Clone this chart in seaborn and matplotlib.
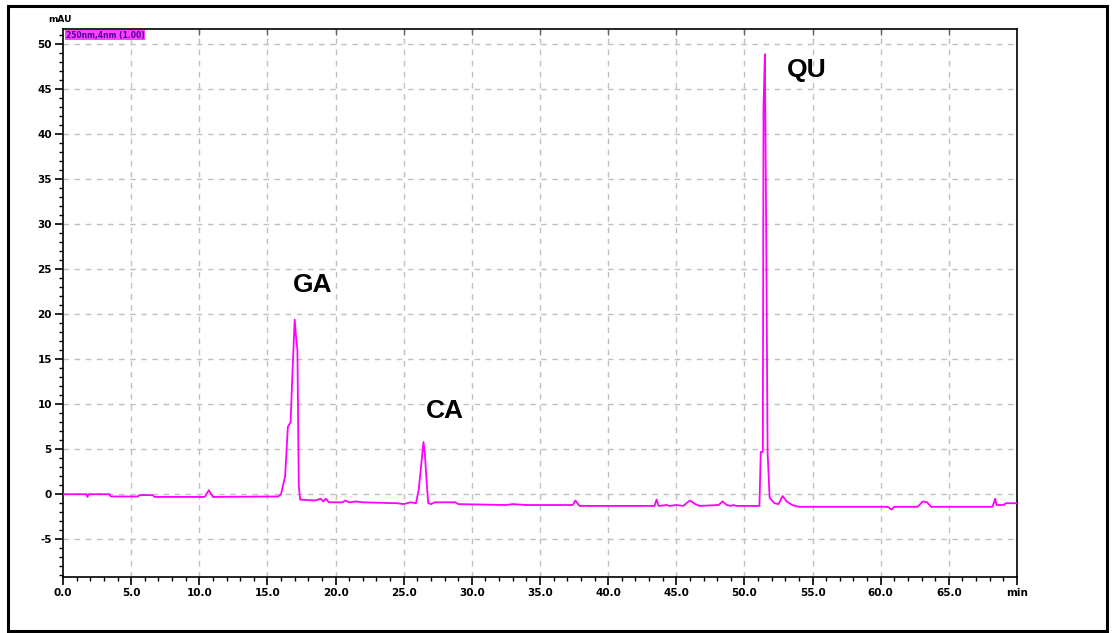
import matplotlib
matplotlib.use("Agg")
import matplotlib.pyplot as plt
import seaborn as sns
import pandas as pd
from matplotlib.patches import Rectangle
from matplotlib.ticker import MultipleLocator, FixedLocator, FixedFormatter

# ---- data (retention time in min, absorbance in mAU) ----
time_min = [0.0, 1.7, 1.8, 1.9, 3.4, 3.5, 5.5, 5.6, 6.6, 6.7, 10.4, 10.7, 11.0,
            15.8, 16.0, 16.3, 16.5, 16.7, 16.85, 17.0, 17.1, 17.2, 17.3, 17.4,
            18.5, 18.9, 19.1, 19.3, 19.5, 20.5, 20.7, 21.0, 21.5, 22.0, 24.5, 25.0,
            25.5, 25.9, 26.1, 26.3, 26.45, 26.55, 26.7, 26.8, 27.0, 27.3, 28.8, 29.0,
            32.5, 33.0, 34.0, 37.4, 37.6, 37.9, 43.4, 43.55, 43.7, 44.3, 44.5, 45.0,
            45.5, 46.0, 46.4, 46.7, 48.1, 48.4, 48.7, 49.0, 49.2, 49.4, 51.1,
            51.2, 51.35, 51.4, 51.5, 51.6, 51.7, 51.85, 52.2, 52.5, 52.8, 53.1,
            53.5, 54.0, 60.5, 60.8, 61.0, 62.7, 63.1, 63.4, 63.7, 68.2, 68.4,
            68.5, 69.0, 69.2, 70.0]
signal_mau = [0.0, 0.0, -0.3, 0.0, 0.0, -0.25, -0.25, -0.1, -0.1, -0.3, -0.3, 0.45, -0.3,
              -0.25, 0.0, 2.0, 7.5, 8.0, 14.0, 19.4, 17.5, 16.0, 1.0, -0.6,
              -0.7, -0.5, -0.8, -0.5, -0.9, -0.9, -0.7, -0.9, -0.8, -0.9, -1.0, -1.1,
              -0.9, -1.0, 0.5, 3.5, 5.8, 4.5, 1.0, -1.0, -1.1, -0.9, -0.9, -1.1,
              -1.2, -1.1, -1.2, -1.2, -0.7, -1.3, -1.3, -0.6, -1.3, -1.2, -1.3, -1.2,
              -1.3, -0.7, -1.1, -1.3, -1.2, -0.8, -1.2, -1.3, -1.2, -1.3, -1.3,
              4.7, 4.7, 43.0, 48.9, 28.8, 4.6, -0.4, -1.0, -1.1, -0.2, -0.8,
              -1.2, -1.4, -1.4, -1.7, -1.4, -1.4, -0.8, -0.9, -1.4, -1.4, -0.5,
              -1.2, -1.2, -1.0, -1.0]

peak_names = ["GA", "CA", "QU"]
peak_label_x = [18.3, 28.0, 54.6]
peak_label_y = [23.2, 9.3, 47.1]

x_tick_values = [0, 5, 10, 15, 20, 25, 30, 35, 40, 45, 50, 55, 60, 65, 70]
x_tick_labels = ["0.0", "5.0", "10.0", "15.0", "20.0", "25.0", "30.0", "35.0",
                 "40.0", "45.0", "50.0", "55.0", "60.0", "65.0", "min"]
y_tick_values = [-5, 0, 5, 10, 15, 20, 25, 30, 35, 40, 45, 50]
y_tick_labels = ["-5", "0", "5", "10", "15", "20", "25", "30", "35", "40", "45", "50"]

df = pd.DataFrame({"t": time_min, "mAU": signal_mau})

sns.set_theme(style="white")
plt.rcParams['font.family'] = ['DejaVu Sans']

W, H = 1119, 633
fig = plt.figure(figsize=(W / 100, H / 100), dpi=100)
ax = fig.add_axes([63 / W, 1 - 577 / H, (1017 - 63) / W, (577 - 29) / H])

# grid
for xv in x_tick_values[1:-1]:
    ax.axvline(xv, color="#c0c0c0", lw=1.0, ls=(0, (4, 4)), zorder=0)
for yv in y_tick_values:
    ax.axhline(yv, color="#c0c0c0", lw=1.0, ls=(0, (4, 4)), zorder=0)

sns.lineplot(data=df, x="t", y="mAU", ax=ax, color="#ff00ff", lw=1.3,
             estimator=None, sort=False, zorder=3)

ax.set_xlim(0, 70)
ax.set_ylim(-9.2, 51.7)
ax.set_xlabel("")
ax.set_ylabel("")

ax.xaxis.set_major_locator(FixedLocator(x_tick_values))
ax.xaxis.set_major_formatter(FixedFormatter(x_tick_labels))
ax.xaxis.set_minor_locator(MultipleLocator(1))
ax.yaxis.set_major_locator(FixedLocator(y_tick_values))
ax.yaxis.set_major_formatter(FixedFormatter(y_tick_labels))
ax.yaxis.set_minor_locator(MultipleLocator(1))

ax.tick_params(axis="both", which="major", direction="out", length=6, width=1.2,
               color="black", labelsize=7.5, pad=2, bottom=True, left=True)
ax.tick_params(axis="both", which="minor", direction="out", length=3, width=1.0,
               color="black", bottom=True, left=True)
ax.tick_params(axis="x", which="major", top=False)
for lab in ax.get_xticklabels() + ax.get_yticklabels():
    lab.set_fontweight("bold")
    lab.set_color("black")

for s in ax.spines.values():
    s.set_visible(True)
    s.set_color("black")
    s.set_linewidth(1.2)

# small inward ticks on the top spine
ax2 = ax.secondary_xaxis("top")
ax2.xaxis.set_major_locator(FixedLocator(x_tick_values[1:-1]))
ax2.tick_params(axis="x", direction="in", length=4, width=1.0, color="#606060",
                labeltop=False)
ax2.spines["top"].set_visible(False)

# peak labels
for name, px, py in zip(peak_names, peak_label_x, peak_label_y):
    ax.text(px, py, name, fontsize=19, fontweight="bold", color="black",
            ha="center", va="center", family=["Liberation Sans", "DejaVu Sans"], zorder=4)

# unit label and signal label
fig.text(48 / W, 1 - 20 / H, "mAU", fontsize=6.5, fontweight="bold", color="black",
         ha="left", va="center")
ax.text(0.003, 0.997, "250nm,4nm (1.00)", transform=ax.transAxes, fontsize=5.5,
        fontweight="bold", color="#5000a0", ha="left", va="top",
        bbox=dict(boxstyle="square,pad=0.1", facecolor="#ff40ff", edgecolor="none"),
        zorder=5)

# outer frame
fig.patches.append(Rectangle((8 / W, 1 - 631 / H), (1107 - 8) / W, (631 - 6) / H,
                             transform=fig.transFigure, fill=False,
                             edgecolor="black", lw=2.2))

fig.savefig("out.png", dpi=100)
